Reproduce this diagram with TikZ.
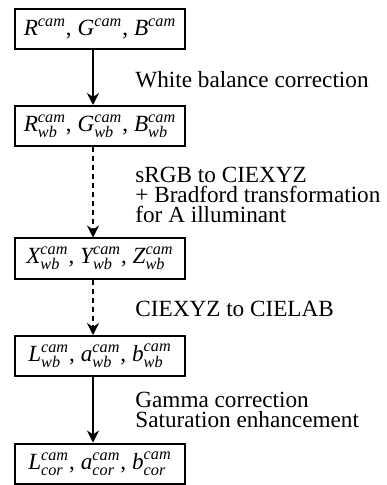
\documentclass[tikz,border=0pt]{standalone}
\usepackage{amsmath}
\usepackage{fontspec}
\setmainfont{Liberation Serif}
\usetikzlibrary{arrows.meta}
\newcommand{\kan}[2]{\textit{#1}^{\textit{cam}}_{\textit{#2}}}

\begin{document}
\begin{tikzpicture}[x=1pt,y=1pt,font=\fontsize{11.6}{10}\selectfont,
  okvir/.style={draw,line width=1pt,minimum width=85pt,minimum height=20pt,inner sep=0pt},
  puscica/.style={line width=0.8pt,-{Stealth[length=6pt,width=6pt,inset=2pt]}},
  crtkano/.style={dash pattern=on 2.5pt off 2pt},
  opis/.style={anchor=west,align=left,inner sep=0pt}]
\useasboundingbox (0,0) rectangle (193,-242.5);
\node[okvir] (a_0) at (50,-14.5) {$\textit{R}^{\textit{cam}}$, $\textit{G}^{\textit{cam}}$, $\textit{B}^{\textit{cam}}$};
\node[okvir] (a_1) at (50,-63) {$\kan{R}{wb}$, $\kan{G}{wb}$, $\kan{B}{wb}$};
\node[okvir] (a_2) at (50,-129.25) {$\kan{X}{wb}$, $\kan{Y}{wb}$, $\kan{Z}{wb}$};
\node[okvir] (a_3) at (50,-178) {$\kan{L}{wb}$, $\kan{a}{wb}$, $\kan{b}{wb}$};
\node[okvir] (a_4) at (50,-231.75) {$\kan{L}{cor}$, $\kan{a}{cor}$, $\kan{b}{cor}$};
\node[opis] (o_0) at (67.5,-40) {White balance correction};
\node[opis] (o_1) at (67.5,-97.25) {sRGB to CIEXYZ\\+ Bradford transformation\\for A illuminant};
\node[opis] (o_2) at (67.5,-154.5) {CIEXYZ to CIELAB};
\node[opis] (o_3) at (67.5,-204.75) {Gamma correction\\Saturation enhancement};
\foreach \i/\j/\s in {0/1/solid,1/2/crtkano,2/3/crtkano,3/4/solid} {
  \draw[puscica,\s] ([xshift=-3.5pt]a_\i.south) -- ([xshift=-3.5pt]a_\j.north);
}
\end{tikzpicture}
\end{document}
